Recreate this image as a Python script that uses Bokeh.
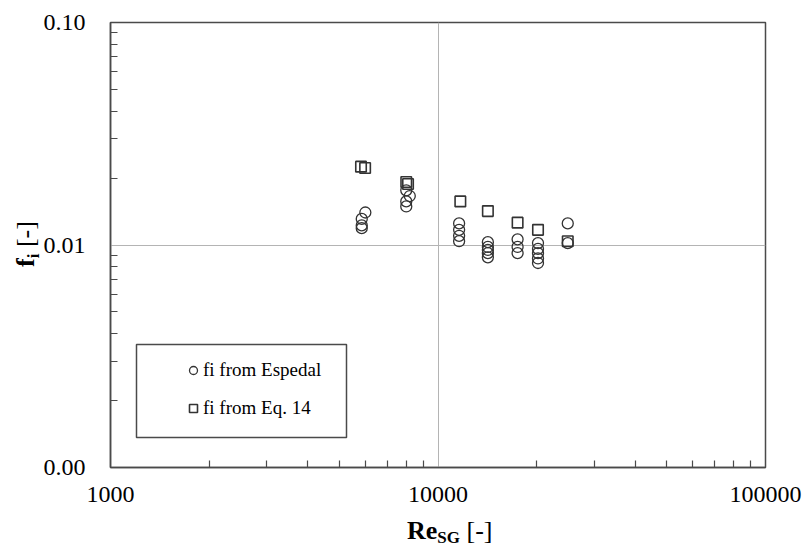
from bokeh.plotting import figure
from bokeh.models import (FixedTicker, PrintfTickFormatter, Legend, LegendItem,
                          BoxAnnotation, Div)
from bokeh.layouts import row, column
from bokeh.embed import file_html
from bokeh.resources import INLINE

# Data
esp_re = [6000, 5850, 5850, 5850,
          8000, 8200, 8000, 8000,
          11600, 11600, 11600, 11600,
          14200, 14200, 14200, 14200, 14200,
          17500, 17500, 17500,
          20200, 20200, 20200, 20200, 20200,
          24900, 24900]
esp_fi = [0.0140, 0.0131, 0.01225, 0.0119,
          0.0176, 0.0166, 0.0157, 0.0149,
          0.0125, 0.0117, 0.0110, 0.0104,
          0.0103, 0.0098, 0.0095, 0.0092, 0.0088,
          0.0106, 0.0098, 0.0092,
          0.0102, 0.0096, 0.0092, 0.0087, 0.0083,
          0.0125, 0.0102]

eq_re = [5820, 5990, 8000, 8100, 11700, 14200, 17500, 20200, 24900]
eq_fi = [0.0225, 0.0222, 0.0192, 0.0188, 0.0157, 0.0142, 0.0126, 0.0117, 0.0104]

x_major = [1000, 10000, 100000]
x_minor = [2000, 3000, 4000, 5000, 6000, 7000, 8000, 9000,
           20000, 30000, 40000, 50000, 60000, 70000, 80000, 90000]
y_major = [0.001, 0.01, 0.1]
y_minor = [0.002, 0.003, 0.004, 0.005, 0.006, 0.007, 0.008, 0.009,
           0.02, 0.03, 0.04, 0.05, 0.06, 0.07, 0.08, 0.09]

label_esp = "fi from Espedal"
label_eq = "fi from Eq. 14"

SERIF = "Liberation Serif"
DARK = "#4a4a4a"

p = figure(width=764, height=515, x_axis_type="log", y_axis_type="log",
           x_range=(1000, 100000), y_range=(0.001, 0.1),
           output_backend="svg", toolbar_location=None,
           min_border_left=69, min_border_right=39,
           min_border_top=22, min_border_bottom=48)

p.background_fill_color = "white"
p.border_fill_color = "white"
p.outline_line_color = DARK
p.outline_line_width = 1.5

p.xaxis.ticker = FixedTicker(ticks=x_major, minor_ticks=x_minor)
p.yaxis.ticker = FixedTicker(ticks=y_major, minor_ticks=y_minor)
p.xaxis.formatter = PrintfTickFormatter(format="%d")
p.yaxis.formatter = PrintfTickFormatter(format="%.2f")

for ax in (p.xaxis, p.yaxis):
    ax.axis_line_color = DARK
    ax.axis_line_width = 1.5
    ax.major_tick_in = 0
    ax.major_tick_out = 0
    ax.minor_tick_in = 7
    ax.minor_tick_out = 0
    ax.minor_tick_line_color = DARK
    ax.minor_tick_line_width = 1.2
    ax.major_label_text_font = SERIF
    ax.major_label_text_font_size = "24px"
    ax.major_label_text_color = "black"
p.xaxis.major_label_standoff = 19
p.yaxis.major_label_standoff = 25

p.xgrid.grid_line_color = "#b4b4b4"
p.ygrid.grid_line_color = "#b4b4b4"
p.xgrid.grid_line_width = 1
p.ygrid.grid_line_width = 1

r_esp = p.scatter(esp_re, esp_fi, marker="circle", size=11, fill_color=None,
                  line_color="#333333", line_width=1.3)
r_eq = p.scatter(eq_re, eq_fi, marker="square", size=10.5, fill_color=None,
                 line_color="#333333", line_width=1.6)

# legend frame
box = BoxAnnotation(left=26, right=236, bottom=30, top=123,
                    left_units="screen", right_units="screen",
                    top_units="screen", bottom_units="screen",
                    fill_color="white", fill_alpha=1.0,
                    line_color=DARK, line_alpha=1.0, line_width=1.5)
p.add_layout(box)

legend = Legend(items=[LegendItem(label=label_esp, renderers=[r_esp]),
                       LegendItem(label=label_eq, renderers=[r_eq])],
                location=(73, 47), orientation="vertical",
                padding=0, spacing=14, glyph_height=24, label_height=24,
                glyph_width=20, label_standoff=0,
                label_text_font=SERIF, label_text_font_size="19px",
                label_text_color="black",
                border_line_alpha=0, background_fill_alpha=0)
p.add_layout(legend)

xlab_html = (
    '<div style="position:relative;width:764px;height:34px;'
    'font-family:\'Liberation Serif\';color:black;">'
    '<span style="position:absolute;left:367px;top:3px;white-space:nowrap;'
    'font-size:26px;line-height:26px;">'
    '<b>Re<span style="font-size:17px;vertical-align:-4px;">SG</span></b> [-]'
    '</span></div>'
)
ylab_html = (
    '<div style="position:relative;width:40px;height:549px;'
    'font-family:\'Liberation Serif\';color:black;">'
    '<span style="position:absolute;left:13px;top:267px;white-space:nowrap;'
    'font-size:26px;line-height:26px;transform-origin:0 0;'
    'transform:rotate(-90deg);">'
    '<b>f<span style="font-size:17px;vertical-align:-5px;">i</span></b> [-]'
    '</span></div>'
)

xdiv = Div(text=xlab_html, width=764, height=34, margin=0,
           styles={"overflow": "visible"})
ydiv = Div(text=ylab_html, width=40, height=549, margin=0,
           styles={"overflow": "visible"})

layout = row(ydiv, column(p, xdiv, spacing=0), spacing=0)

open("out.html", "w").write(file_html(layout, INLINE))
